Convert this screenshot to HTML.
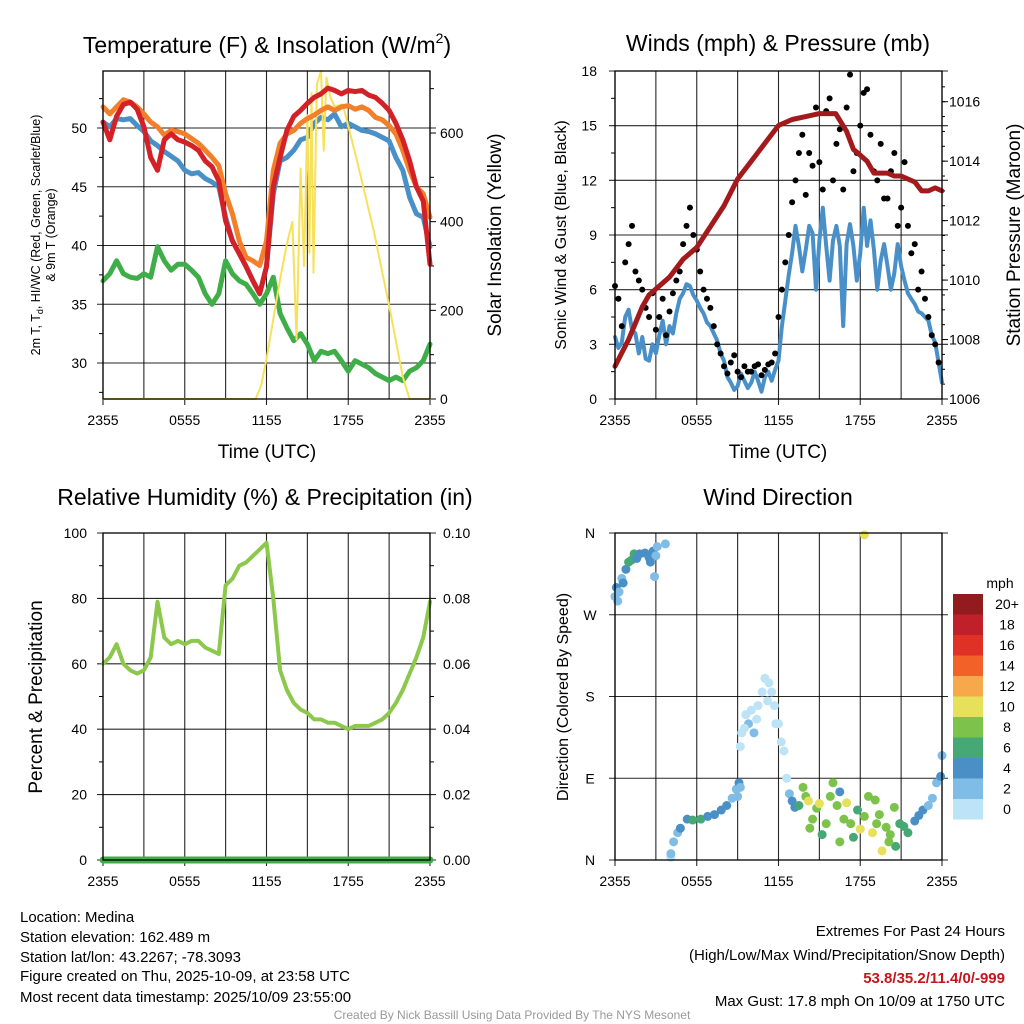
<!DOCTYPE html>
<html><head><meta charset="utf-8"><style>
html,body{margin:0;padding:0;background:#fff}
svg{display:block;font-family:"Liberation Sans",sans-serif}
</style></head><body>
<svg id="c" width="1024" height="1024" viewBox="0 0 1024 1024" xmlns="http://www.w3.org/2000/svg">
<rect width="1024" height="1024" fill="#fff"/>
<g id="g1"></g>
<g id="g2"></g>
<g id="g3"></g>
<g id="g4"></g>
<g font-size="15" fill="#000">
<text x="20" y="922">Location: Medina</text>
<text x="20" y="942">Station elevation: 162.489 m</text>
<text x="20" y="962">Station lat/lon: 43.2267; -78.3093</text>
<text x="20" y="981">Figure created on Thu, 2025-10-09, at 23:58 UTC</text>
<text x="20" y="1002">Most recent data timestamp: 2025/10/09 23:55:00</text>
</g>
<g font-size="15" text-anchor="end">
<text x="1005" y="936">Extremes For Past 24 Hours</text>
<text x="1005" y="960">(High/Low/Max Wind/Precipitation/Snow Depth)</text>
<text x="1005" y="983" fill="#c4161c" font-weight="bold">53.8/35.2/11.4/0/-999</text>
<text x="1005" y="1006">Max Gust: 17.8 mph On 10/09 at 1750 UTC</text>
</g>
<text x="512" y="1019" font-size="12" fill="#999" text-anchor="middle">Created By Nick Bassill Using Data Provided By The NYS Mesonet</text>
</svg>
<script>
// ---------- data ----------
const xTickLabels = ["2355","0555","1155","1755","2355"];
const halfHours = [0,0.5,1,1.5,2,2.5,3,3.5,4,4.5,5,5.5,6,6.5,7,7.5,8,8.5,9,9.5,10,10.5,11,11.5,12,12.5,13,13.5,14,14.5,15,15.5,16,16.5,17,17.5,18,18.5,19,19.5,20,20.5,21,21.5,22,22.5,23,23.5,24];
const quarterHours = [0,0.25,0.5,0.75,1,1.25,1.5,1.75,2,2.25,2.5,2.75,3,3.25,3.5,3.75,4,4.25,4.5,4.75,5,5.25,5.5,5.75,6,6.25,6.5,6.75,7,7.25,7.5,7.75,8,8.25,8.5,8.75,9,9.25,9.5,9.75,10,10.25,10.5,10.75,11,11.25,11.5,11.75,12,12.25,12.5,12.75,13,13.25,13.5,13.75,14,14.25,14.5,14.75,15,15.25,15.5,15.75,16,16.25,16.5,16.75,17,17.25,17.5,17.75,18,18.25,18.5,18.75,19,19.25,19.5,19.75,20,20.25,20.5,20.75,21,21.25,21.5,21.75,22,22.25,22.5,22.75,23,23.25,23.5,23.75,24];
const tempBlue = [50.5,50.1,50.8,50.7,50.8,50.2,49.7,48.9,48.5,48.0,47.6,47.2,46.4,46.1,46.2,45.7,45.4,45.0,42.4,40.4,39.3,38.2,37.0,35.9,38.2,44.4,47.2,47.5,48.1,49.0,49.2,50.4,50.9,50.7,51.2,50.1,50.4,50.1,49.8,49.7,49.5,49.2,48.9,47.5,46.4,44.1,42.7,42.4,39.9];
const tempOrange = [51.8,51.2,51.8,52.4,52.2,51.8,51.2,50.5,50.1,49.4,49.8,49.7,49.5,49.1,48.7,48.1,47.5,46.8,44.4,42.7,40.4,39.0,38.7,38.3,40.4,46.4,48.7,49.5,49.8,50.4,50.8,51.1,51.5,51.8,51.5,51.8,51.9,51.6,51.8,51.5,50.9,50.7,50.2,49.5,48.1,46.4,45.0,44.4,42.4];
const tempRed = [50.5,49.0,51.0,52.0,52.2,51.6,50.1,47.5,46.4,49.0,49.5,49.0,48.8,48.5,48.1,47.2,46.7,45.5,42.1,40.4,39.3,38.2,37.0,35.9,38.2,45.0,47.5,49.8,51.0,51.5,52.1,52.6,52.9,53.4,53.2,52.9,53.2,53.1,53.2,52.8,52.6,52.1,51.5,50.4,49.0,47.2,45.0,43.8,38.4];
const dewGreen = [37.0,37.6,38.7,37.6,37.3,37.2,37.6,37.3,39.9,38.7,37.9,38.4,38.4,37.9,37.3,35.9,35.0,35.9,38.7,37.6,37.0,36.7,35.9,35.0,35.9,37.3,34.2,33.0,31.9,32.5,31.6,30.2,31.0,30.8,31.0,30.2,29.3,30.2,29.9,29.6,29.1,28.8,28.5,28.8,28.5,29.3,29.6,30.2,31.6];
const solarHours = [0,11.2,11.6,12,12.5,13,13.5,13.9,14.2,14.5,14.75,15.0,15.15,15.3,15.45,15.7,16.0,16.2,16.4,16.7,17,17.6,18.6,19.9,21.1,22,22.5,24];
const solarVals = [0,0,30,90,180,270,350,400,134,520,300,640,330,690,285,710,740,560,725,680,660,664,543,376,195,50,0,0];
const pressHours = [0,1,2,2.5,3,4,5,6,7,8,9,10,11,12,13,14,15,15.5,16.2,17,17.5,18,18.5,19,19.5,20,20.5,21,21.5,22,22.5,23,23.5,24];
const pressVals = [1007.1,1008.0,1009.1,1009.5,1009.7,1010.1,1010.7,1011.1,1011.8,1012.5,1013.4,1014.0,1014.6,1015.2,1015.4,1015.5,1015.6,1015.6,1015.6,1015.0,1014.4,1014.2,1014.0,1013.6,1013.6,1013.6,1013.5,1013.5,1013.4,1013.3,1013.0,1013.0,1013.1,1013.0];
const windBlue = [3.4,2.8,3.1,4.5,4.9,3.8,3.6,2.5,3.4,2.2,2.1,3.0,2.5, 3.5,4.3,3.0,4.0,3.6,4.7,5.5,5.8,6.3,6.2,5.7,5.4, 5.0,4.7,4.2,4.0,3.6,3.2,2.5,2.1,1.2,0.9,0.5,0.7, 1.4,1.0,0.6,0.9,1.5,1.0,0.4,1.2,1.5,1.0,1.6,2.1, 4.0,5.4,6.8,8.0,9.5,8.4,7.0,8.2,9.5,9.1,6.0,8.7, 10.5,8.4,6.5,8.7,9.5,8.4,4.0,8.5,9.6,8.4,6.5,8.0, 10.5,8.4,9.8,8.2,6.0,7.6,8.5,7.3,6.0,6.9,8.5,7.3, 6.5,5.8,5.5,5.2,4.8,4.7,4.5,4.3,3.5,3.1,2.0,0.9];
const gustA = [6.2,4.0,8.5,7.0,6.0,4.5,3.8,5.5,4.8,6.5,8.5,10.5,8.2,6.0,5.0,3.0,1.8,2.0,1.5,1.8,1.5,1.9,1.6,2.0,4.5,7.5,10.8,13.5,11.2,12.8,13.0,15.8,12.0,14.8,16.0,12.5,15.0,17.0,12.5,14.0,11.0,13.5,10.5,9.5,8.5,7.0,4.5,3.0];
const gustB = [5.5,7.5,9.5,6.5,5.0,5.8,4.5,3.5,5.8,7.0,9.5,9.0,7.0,5.5,4.0,2.5,1.4,2.4,1.2,1.5,1.8,1.3,1.9,2.5,6.0,9.0,12.0,14.5,13.5,16.0,11.5,16.5,14.0,11.5,17.8,13.5,16.8,14.5,12.0,11.0,12.5,9.5,13.0,8.0,6.0,5.5,3.5,2.0];
const rhVals = [60,62,66,60,58,57,58,62,79,68,66,67,66,67,67,65,64,63,84,86,90,91,93,95,97,80,58,52,48,46,45,43,43,42,42,41,40,41,41,41,42,43,45,48,52,57,62,68,79];
const precipVals = [0,0,0,0,0,0,0,0,0,0,0,0,0,0,0,0,0,0,0,0,0,0,0,0,0,0,0,0,0,0,0,0,0,0,0,0,0,0,0,0,0,0,0,0,0,0,0,0,0];
const dirHours = [0,0.1,0.2,0.3,0.5,0.6,0.8,1.0,1.2,1.4,1.6,1.8,2.2,2.5,2.8,3.0,3.1,2.9,2.6,3.7, 4.1,4.1,4.3,4.6,4.8,5.3,5.7,6.3,6.8,7.3,7.8,8.2,8.6,8.9,9.1,9.2,9.0, 9.2,9.3,9.6,9.8,10.0,10.2,10.5,10.8,11.0,11.3,11.5,11.7,12.0,12.2,12.4,11.2,10.4,11.8,9.5, 12.6,12.8,13.0,13.2,13.5,13.8,14.0,14.2,14.5,14.8,15.0,15.2,15.5,15.8,16.0,16.3,16.5,16.8,17.0,17.3,17.5,17.8,18.0,18.3,18.6,18.9,19.1,19.4,19.6,19.9,20.2,20.5,20.6,20.9,21.2,21.5,22.0,22.3,22.6,23.0,23.3,23.6,23.9,24.0,18.3,16.5,14.3,19.2,20.1];
const dirVals = [290,300,285,295,310,305,320,328,330,337,332,337,338,333,340,335,345,312,328,348, 3,7,20,30,35,45,44,45,48,50,55,60,68,78,85,80,70, 125,140,160,150,165,140,170,185,200,195,185,170,150,130,120,175,155,150,145, 90,73,65,58,60,80,70,65,45,57,62,28,40,70,85,60,75,45,63,40,25,55,34,48,70,30,66,50,10,36,28,58,15,40,37,30,43,49,55,60,68,85,92,115,358,20,35,40,20];
const dirSpeeds = [2,4,2,2,2,4,4,6,6,6,4,4,4,4,4,2,2,2,4,2, 0,2,2,2,4,4,6,6,4,4,4,4,2,2,4,2,2, 0,0,0,2,0,2,0,0,0,0,0,0,0,0,0,0,0,0,0, 0,2,4,4,6,8,8,10,8,8,10,6,8,8,8,8,4,8,10,8,6,6,10,8,8,10,8,8,10,8,8,8,6,6,6,6,4,4,4,2,2,2,4,2,10,8,8,8,8];
const cbLabels = ["20+","18","16","14","12","10","8","6","4","2","0"];
const cbColors = ["#931a1d","#c0202a","#e03127","#f26128","#f7a84a","#e6e05a","#7dc24b","#46a874","#4a8fc6","#80bde6","#bde3f7"];

// ---------- helpers ----------
const NS="http://www.w3.org/2000/svg";
function mk(parent,tag,attrs,txt){const e=document.createElementNS(NS,tag);for(const k in attrs)e.setAttribute(k,attrs[k]);if(txt!==undefined)e.textContent=txt;parent.appendChild(e);return e;}
function scale(d0,d1,r0,r1){return v=>r0+(v-d0)/(d1-d0)*(r1-r0);}
function frame(g,L,R,T,B,xs){
  for(let i=0;i<=8;i++){const x=xs(i*3);const l=mk(g,'line',{x1:x,x2:x,y1:T,y2:B+(i%2===0?6:0),stroke:'#000','stroke-width':1.1,'stroke-opacity':0.85});
    }
  xTickLabels.forEach((t,i)=>{const tx=mk(g,'text',{x:xs(i*6),y:B+26,'font-size':14,'text-anchor':'middle'},t);
    });
}
function hgrid(g,L,R,y){const l=mk(g,'line',{x1:L-6,x2:R+6,y1:y,y2:y,stroke:'#000','stroke-width':1.1,'stroke-opacity':0.85});
  }
function border(g,L,R,T,B){const r=mk(g,'rect',{x:L,y:T,width:R-L,height:B-T,fill:'none',stroke:'#000','stroke-width':1.3});
  }
function line(g,xsArr,ys,xs,yf,color,w,name){let d='';xsArr.forEach((h,i)=>{d+=(i?'L':'M')+xs(h).toFixed(1)+','+yf(ys[i]).toFixed(1);});
  const p=mk(g,'path',{d:d,fill:'none',stroke:color,'stroke-width':w,'stroke-linejoin':'round','stroke-linecap':'round'});
  return p;}
function txt(g,x,y,s,t,extra,name){const a=Object.assign({x:x,y:y,'font-size':s},extra||{});const e=mk(g,'text',a,t);
  return e;}

// ---------- panel 1: temperature ----------
(function(){
  const g=document.getElementById('g1');const L=103,R=430,T=71,B=399;
  const xs=scale(0,24,L,R);const yt=scale(30,50,363,128);const ys=scale(0,600,399,133);
  frame(g,L,R,T,B,xs);
  [30,35,40,45,50].forEach(v=>{hgrid(g,L,R,yt(v));txt(g,87,yt(v)+5,14,String(v),{'text-anchor':'end'},'y-tick-label');});
  for(let v=27.5;v<=52.5;v+=5){mk(g,'line',{x1:L-4,x2:L,y1:yt(v),y2:yt(v),stroke:'#000'});}
  [0,200,400,600].forEach(v=>{mk(g,'line',{x1:R,x2:R+6,y1:ys(v),y2:ys(v),stroke:'#000'});txt(g,440,ys(v)+5,14,String(v),{},'y2-tick-label');});
  for(let v=100;v<=700;v+=200){mk(g,'line',{x1:R,x2:R+4,y1:ys(v),y2:ys(v),stroke:'#000'});}
  line(g,halfHours,tempBlue,xs,yt,'#4a90c8',5,'temp-2m-line');
  line(g,halfHours,dewGreen,xs,yt,'#3fae49',5,'dewpoint-line');
  line(g,solarHours,solarVals,xs,ys,'#f7e15a',2,'solar-line');
  line(g,halfHours,tempOrange,xs,yt,'#f47f2b',5,'temp-9m-line');
  line(g,halfHours,tempRed,xs,yt,'#d42127',5,'heat-index-line');
  border(g,L,R,T,B);
  const t=txt(g,267,53,23,'Temperature (F) & Insolation (W/m',{'text-anchor':'middle'},'panel-title');
  mk(t,'tspan',{'font-size':14,dy:-10},'2');mk(t,'tspan',{dy:10},')');
  txt(g,267,458,19,'Time (UTC)',{'text-anchor':'middle'},'x-axis-title');
  const yl=txt(g,0,0,12.5,'',{transform:'translate(40,235) rotate(-90)','text-anchor':'middle'},'y-axis-title');
  mk(yl,'tspan',{},'2m T, T');mk(yl,'tspan',{'font-size':9,dy:3},'d');mk(yl,'tspan',{dy:-3},', HI/WC (Red, Green, Scarlet/Blue)');
  txt(g,0,0,12.5,'& 9m T (Orange)',{transform:'translate(55,235) rotate(-90)','text-anchor':'middle'},'y-axis-title-line2');
  txt(g,0,0,19,'Solar Insolation (Yellow)',{transform:'translate(501,235) rotate(-90)','text-anchor':'middle'},'y2-axis-title');
})();

// ---------- panel 2: winds ----------
(function(){
  const g=document.getElementById('g2');const L=615,R=942,T=71,B=399;
  const xs=scale(0,24,L,R);const yw=scale(0,18,399,71);const yp=scale(1006,1016,399,101.7);
  frame(g,L,R,T,B,xs);
  [0,3,6,9,12,15,18].forEach(v=>{hgrid(g,L,R,yw(v));txt(g,597,yw(v)+5,14,String(v),{'text-anchor':'end'},'y-tick-label');});
  for(let v=1.5;v<18;v+=3){mk(g,'line',{x1:L-4,x2:L,y1:yw(v),y2:yw(v),stroke:'#000'});}
  [1006,1008,1010,1012,1014,1016].forEach(v=>{mk(g,'line',{x1:R,x2:R+6,y1:yp(v),y2:yp(v),stroke:'#000'});txt(g,949,yp(v)+5,14,String(v),{},'y2-tick-label');});
  for(let v=1006.5;v<1017;v+=0.5){mk(g,'line',{x1:R,x2:R+3,y1:yp(v),y2:yp(v),stroke:'#000'});}
  line(g,quarterHours,windBlue,xs,yw,'#4a90c8',4,'sonic-wind-line');
  gustA.forEach((v,i)=>{const c=mk(g,'circle',{cx:xs(i*0.5),cy:yw(v),r:3,fill:'#000'});
    });
  gustB.forEach((v,i)=>{const c=mk(g,'circle',{cx:xs(i*0.5+0.25),cy:yw(v),r:3,fill:'#000'});
    });
  line(g,pressHours,pressVals,xs,yp,'#a31a1d',5,'pressure-line');
  border(g,L,R,T,B);
  txt(g,778,51,23,'Winds (mph) & Pressure (mb)',{'text-anchor':'middle'},'panel-title');
  txt(g,778,458,19,'Time (UTC)',{'text-anchor':'middle'},'x-axis-title');
  txt(g,0,0,16,'Sonic Wind & Gust (Blue, Black)',{transform:'translate(566,235) rotate(-90)','text-anchor':'middle'},'y-axis-title');
  txt(g,0,0,19,'Station Pressure (Maroon)',{transform:'translate(1020,235) rotate(-90)','text-anchor':'middle'},'y2-axis-title');
})();

// ---------- panel 3: RH ----------
(function(){
  const g=document.getElementById('g3');const L=103,R=430,T=533,B=860;
  const xs=scale(0,24,L,R);const yr=scale(0,100,860,533);const yq=scale(0,0.1,860,533);
  frame(g,L,R,T,B,xs);
  [0,20,40,60,80,100].forEach(v=>{hgrid(g,L,R,yr(v));txt(g,87,yr(v)+5,14,String(v),{'text-anchor':'end'},'y-tick-label');});
  for(let v=10;v<100;v+=20){mk(g,'line',{x1:L-4,x2:L,y1:yr(v),y2:yr(v),stroke:'#000'});}
  [0,0.02,0.04,0.06,0.08,0.1].forEach(v=>{txt(g,443,yq(v)+5,14,v.toFixed(2),{},'y2-tick-label');});
  for(let v=0.01;v<0.1;v+=0.02){mk(g,'line',{x1:R,x2:R+4,y1:yq(v),y2:yq(v),stroke:'#000'});}
  line(g,halfHours,rhVals,xs,yr,'#8cc84b',4,'rh-line');
  line(g,halfHours,precipVals,xs,yq,'#3fae49',7,'precip-line');
  border(g,L,R,T,B);
  txt(g,265,505,23,'Relative Humidity (%) & Precipitation (in)',{'text-anchor':'middle'},'panel-title');
  txt(g,0,0,19,'Percent & Precipitation',{transform:'translate(42,697) rotate(-90)','text-anchor':'middle'},'y-axis-title');
})();

// ---------- panel 4: wind direction ----------
(function(){
  const g=document.getElementById('g4');const L=615,R=942,T=533,B=860;
  const xs=scale(0,24,L,R);const yd=scale(0,360,860,533);
  frame(g,L,R,T,B,xs);
  const dl=['N','E','S','W','N'];
  [0,90,180,270,360].forEach((v,i)=>{hgrid(g,L,R,yd(v));txt(g,590,yd(v)+5,14,dl[i],{'text-anchor':'middle'},'y-tick-label');});
  dirHours.forEach((h,i)=>{const idx=10-Math.min(10,Math.floor(dirSpeeds[i]/2));
    const c=mk(g,'circle',{cx:xs(h),cy:yd(dirVals[i]),r:4.5,fill:cbColors[idx]});
    });
  border(g,L,R,T,B);
  txt(g,778,505,23,'Wind Direction',{'text-anchor':'middle'},'panel-title');
  txt(g,0,0,16,'Direction (Colored By Speed)',{transform:'translate(568,697) rotate(-90)','text-anchor':'middle'},'y-axis-title');
  const cb=mk(g,'g',{});
  txt(cb,1000,588,14,'mph',{'text-anchor':'middle'},'colorbar-title');
  cbLabels.forEach((lab,i)=>{const y=594+i*20.5;
    const r=mk(cb,'rect',{x:953,y:y,width:30,height:20.5,fill:cbColors[i]});
    
    txt(cb,1007,y+15,14,lab,{'text-anchor':'middle'},'colorbar-label');});
})();
</script>
</body></html>
